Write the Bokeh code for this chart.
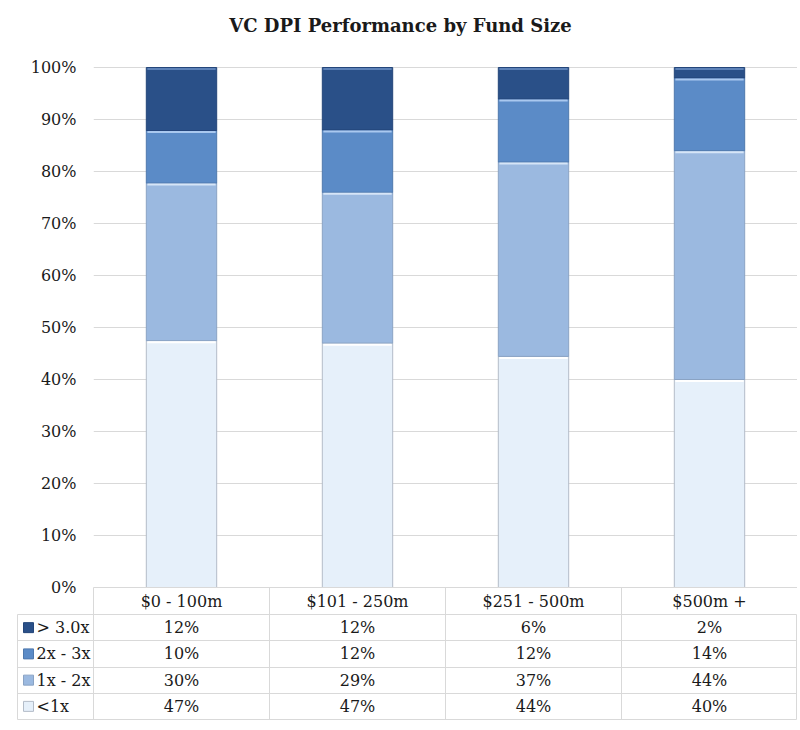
from bokeh.plotting import figure
from bokeh.models import (ColumnDataSource, FixedTicker, NumeralTickFormatter,
                          CustomJSTickFormatter, Range1d)
from bokeh.layouts import column
from bokeh.embed import file_html
from bokeh.resources import INLINE
from bokeh.core.properties import value

# ---------------- data ----------------
title = "VC DPI Performance by Fund Size"
categories = ["$0 - 100m", "$101 - 250m", "$251 - 500m", "$500m +"]
series = ["<1x", "1x - 2x", "2x - 3x", "> 3.0x"]          # bottom -> top
lt_1x = [47, 47, 44, 40]
x1_2x = [30, 29, 37, 44]
x2_3x = [10, 12, 12, 14]
gt_3x = [12, 12, 6, 2]
y_ticks = [0, 0.1, 0.2, 0.3, 0.4, 0.5, 0.6, 0.7, 0.8, 0.9, 1.0]

colors = ["#e6f0fa", "#9bb9e0", "#5b8bc7", "#2a5088"]
edges = ["#b3bcc8", "#8aa3c4", "#4f79ad", "#24467a"]
shine = ["#ffffff", "#d6e5f7", "#a9c8ef", "#5d82b8"]

FONT = "DejaVu Serif"
GRID = "#d9d9d9"
TXT = "#1a1a1a"

values = [lt_1x, x1_2x, x2_3x, gt_3x]
totals = [sum(v[i] for v in values) for i in range(len(categories))]

xs = [i + 0.5 for i in range(len(categories))]
data = {"x": xs}
for name, vals in zip(series, values):
    data[name] = [v / t for v, t in zip(vals, totals)]
src = ColumnDataSource(data)

W = 797
COL_PX = 176
BAR_W = 0.4
FRAME_H = 520      # pixels for 0..100%
TOP_PX = 67        # space above the 100% line

# ---------------- chart ----------------
pa = figure(width=W, height=614, x_range=Range1d(0, len(categories)),
            y_range=Range1d(0, 1 + TOP_PX / FRAME_H),
            output_backend="svg", toolbar_location=None,
            min_border_left=93, min_border_right=0, min_border_top=0,
            min_border_bottom=27)
pa.frame_align = False
pa.outline_line_color = None
pa.background_fill_color = "white"
pa.border_fill_color = "white"

# title (placed in the space above the 100% line)
pa.text(x=[(400 - 93) / COL_PX], y=[1 + (TOP_PX - 25) / FRAME_H], text=[title],
        text_align="center", text_baseline="middle", text_font=value(FONT),
        text_font_size="18px", text_font_style="bold", text_color=TXT)

pa.vbar_stack(series, x="x", width=BAR_W, source=src,
              fill_color=colors, line_color=edges, line_width=1)

# bevel highlight at the top of each segment
hx0, hx1, hy, hc = [], [], [], []
for i, x in enumerate(xs):
    cum = 0.0
    for s, name in enumerate(series):
        cum += data[name][i]
        hx0.append(x - BAR_W / 2 + 0.006)
        hx1.append(x + BAR_W / 2 - 0.006)
        hy.append(cum - 0.003)
        hc.append(shine[s])
pa.segment(x0=hx0, y0=hy, x1=hx1, y1=hy, line_color=hc, line_width=2)

pa.xgrid.visible = False
pa.ygrid.ticker = FixedTicker(ticks=y_ticks)
pa.ygrid.grid_line_color = GRID
pa.ygrid.level = "underlay"

ya = pa.yaxis[0]
ya.ticker = FixedTicker(ticks=y_ticks)
ya.formatter = NumeralTickFormatter(format="0%")
ya.axis_line_color = None
ya.major_tick_line_color = None
ya.minor_tick_line_color = None
ya.major_label_standoff = 11
ya.major_label_text_font = FONT
ya.major_label_text_font_size = "16px"
ya.major_label_text_color = TXT

xa = pa.xaxis[0]
xa.ticker = FixedTicker(ticks=xs, minor_ticks=list(range(len(categories) + 1)))
xa.formatter = CustomJSTickFormatter(args=dict(labels=categories),
                                     code="return labels[Math.floor(tick)]")
xa.axis_line_color = GRID
xa.major_tick_line_color = None
xa.minor_tick_line_color = GRID
xa.minor_tick_in = 0
xa.minor_tick_out = 27
xa.major_label_standoff = -23
xa.major_label_text_font = FONT
xa.major_label_text_font_size = "16px"
xa.major_label_text_color = TXT

# ---------------- table ----------------
nrows = len(series)
key_w = 76 / COL_PX
pb = figure(width=W, height=106, x_range=Range1d(-key_w, len(categories)),
            y_range=Range1d(0, nrows), output_backend="svg",
            toolbar_location=None, x_axis_location=None, y_axis_location=None,
            min_border_left=17, min_border_right=0, min_border_top=0,
            min_border_bottom=1)
pb.frame_align = False
pb.outline_line_color = GRID
pb.xgrid.ticker = FixedTicker(ticks=list(range(len(categories))))
pb.ygrid.ticker = FixedTicker(ticks=list(range(1, nrows)))
pb.xgrid.grid_line_color = GRID
pb.ygrid.grid_line_color = GRID

row_series = list(reversed(series))          # top row first
row_values = list(reversed(values))
row_colors = list(reversed(colors))
row_edges = list(reversed(edges))
row_y = [nrows - i - 0.5 for i in range(nrows)]

cell_x, cell_y, cell_t = [], [], []
for r, vals in enumerate(row_values):
    for c, v in enumerate(vals):
        cell_x.append(c + 0.5)
        cell_y.append(row_y[r])
        cell_t.append(f"{v}%")
pb.text(x=cell_x, y=cell_y, text=cell_t, text_align="center",
        text_baseline="middle", text_font=value(FONT),
        text_font_size="16px", text_color=TXT)

key_x = -key_w + 11 / COL_PX
pb.scatter(x=[key_x] * nrows, y=row_y, marker="square", size=10,
           fill_color=row_colors, line_color=row_edges)
pb.text(x=[-key_w] * nrows, y=row_y, text=row_series, x_offset=19,
        text_align="left", text_baseline="middle", text_font=value(FONT),
        text_font_size="16px", text_color=TXT)

layout = column(pa, pb, spacing=0)
open("out.html", "w").write(file_html(layout, INLINE))
